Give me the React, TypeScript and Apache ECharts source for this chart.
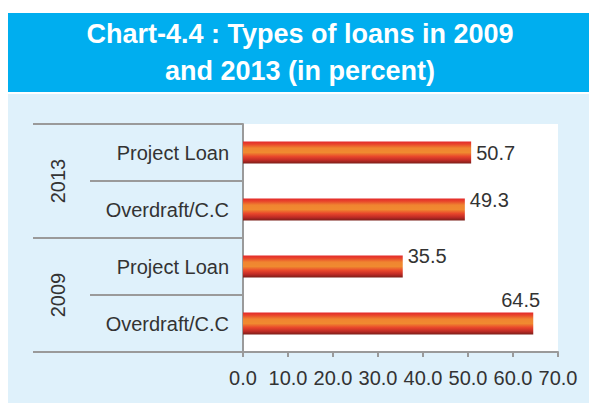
import React, { useEffect, useRef } from "react";
import * as echarts from "echarts";

const titleText = "Chart-4.4 : Types of loans in 2009\nand 2013 (in percent)";
const categories = ["Project Loan", "Overdraft/C.C", "Project Loan", "Overdraft/C.C"];
const years = ["2013", "2009"];
const values = [50.7, 49.3, 35.5, 64.5];
const xTicks = { min: 0, max: 70, interval: 10 };
// label nudges (pixels) to mimic the original hand-placed labels
const labelOffsets: [number, number][] = [[0, 0], [0, -10], [0, -11], [-37, -24]];

const FONT = "'Liberation Sans', Arial, sans-serif";
const GRAY = "#9a9a9a";

export default function App() {
  const ref = useRef<HTMLDivElement>(null);
  useEffect(() => {
    if (!ref.current) return;
    const chart = echarts.init(ref.current, null, { renderer: "svg" });
    const barGradient = new echarts.graphic.LinearGradient(0, 0, 0, 1, [
      { offset: 0, color: "#e3292a" },
      { offset: 0.12, color: "#e8442b" },
      { offset: 0.3, color: "#f08530" },
      { offset: 0.5, color: "#f08a30" },
      { offset: 0.68, color: "#e9472b" },
      { offset: 0.85, color: "#c02b26" },
      { offset: 1, color: "#7a1e18" },
    ]);
    chart.setOption({
      animation: false,
      backgroundColor: "#ffffff",
      textStyle: { fontFamily: FONT },
      title: {
        text: titleText,
        left: 300,
        top: 15,
        padding: 0,
        textAlign: "center",
        textStyle: {
          color: "#ffffff",
          fontSize: 27,
          lineHeight: 37,
          fontWeight: "bold",
          fontFamily: FONT,
        },
      },
      graphic: [
        { type: "rect", z: -10, silent: true, shape: { x: 8, y: 13, width: 581, height: 79 }, style: { fill: "#00aeef" } },
        { type: "rect", z: -10, silent: true, shape: { x: 8, y: 94, width: 581, height: 309 }, style: { fill: "#dff1fb" } },
      ],
      grid: {
        left: 243,
        right: 31,
        top: 124,
        bottom: 52,
        show: true,
        backgroundColor: "#ffffff",
        borderWidth: 0,
      },
      xAxis: {
        type: "value",
        min: xTicks.min,
        max: xTicks.max,
        interval: xTicks.interval,
        axisLine: { show: true, lineStyle: { color: GRAY, width: 2 } },
        axisTick: { show: true, length: 5, lineStyle: { color: GRAY, width: 2 } },
        splitLine: { show: false },
        axisLabel: {
          color: "#333333",
          fontSize: 20,
          margin: 16,
          fontFamily: FONT,
          formatter: (v: number) => v.toFixed(1),
        },
      },
      yAxis: [
        {
          type: "category",
          data: categories,
          inverse: true,
          position: "left",
          axisLine: { show: true, lineStyle: { color: GRAY, width: 2 } },
          axisTick: { show: true, length: 153, lineStyle: { color: GRAY, width: 2 } },
          axisLabel: { color: "#333333", fontSize: 20, margin: 14, fontFamily: FONT },
        },
        {
          type: "category",
          data: years,
          inverse: true,
          position: "left",
          offset: 0,
          axisLine: { show: false },
          axisTick: { show: true, length: 210, lineStyle: { color: GRAY, width: 2 } },
          axisLabel: { color: "#333333", fontSize: 20, margin: 175, rotate: 90, fontFamily: FONT },
        },
      ],
      series: [
        {
          type: "bar",
          yAxisIndex: 0,
          barWidth: 22,
          itemStyle: { color: barGradient },
          label: {
            show: true,
            position: "right",
            distance: 5,
            color: "#333333",
            fontSize: 20,
            fontFamily: FONT,
            formatter: (p: any) => Number(p.value).toFixed(1),
          },
          data: values.map((v, i) => ({
            value: v,
            label: { offset: labelOffsets[i] },
          })),
        },
      ],
    });
    return () => chart.dispose();
  }, []);
  return (
    <div
      ref={ref}
      style={{ position: "absolute", left: 0, top: 0, width: 589, height: 404 }}
    />
  );
}
